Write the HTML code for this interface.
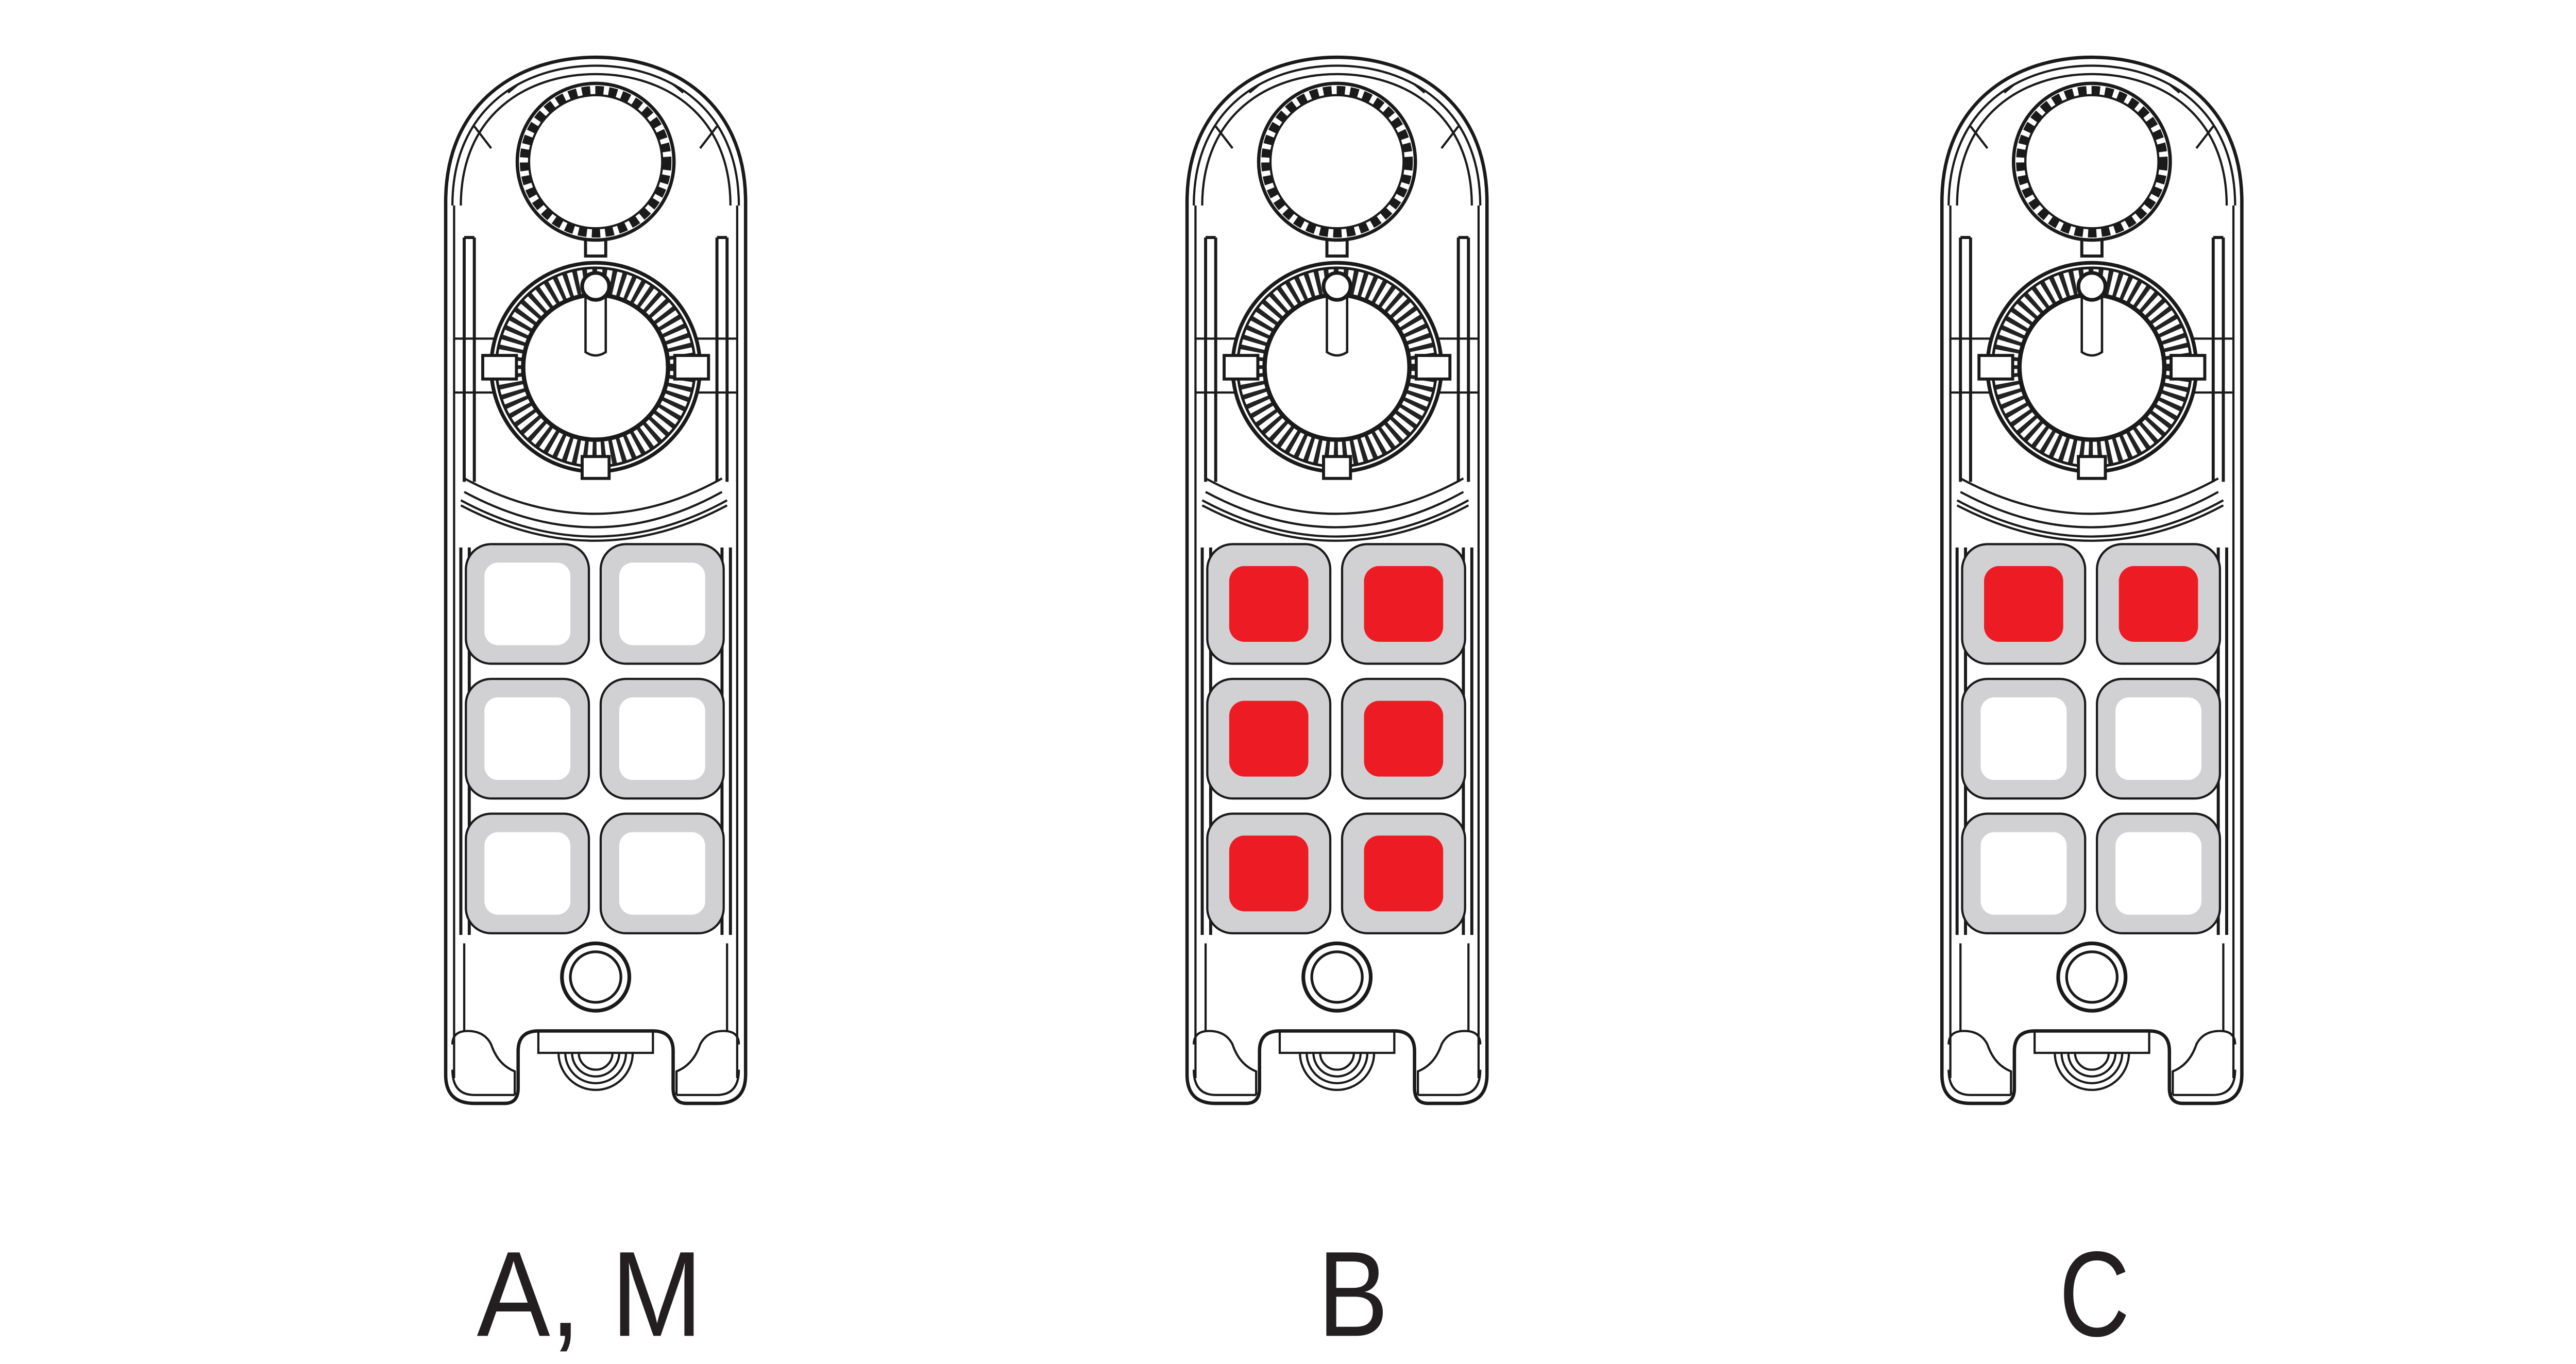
<!DOCTYPE html>
<html><head><meta charset="utf-8"><style>
html,body{margin:0;padding:0;background:#fff;width:5102px;height:2648px;overflow:hidden}
svg{display:block}
</style></head><body>
<svg width="5102" height="2648" viewBox="0 0 1560 809.7" preserveAspectRatio="none" xmlns="http://www.w3.org/2000/svg">
<defs>
<g id="dev" fill="none" stroke="#1a1a1a" stroke-width="1.3">
  <path d="M-89,120 C-89,60 -45,34 0,34 C45,34 89,60 89,120 L89,638 Q89,655 72,655 L54,655 Q46,655 46,646 L46,624 Q46,612 34,612 L-34,612 Q-46,612 -46,624 L-46,646 Q-46,655 -54,655 L-72,655 Q-89,655 -89,638 Z" stroke-width="2"/>
  <path d="M-85,122 C-85,64 -43,39 0,39 C43,39 85,64 85,122" />
  <path d="M-80,122 C-80,68 -41,44 0,44 C41,44 80,68 80,122" />
  <path d="M-72,75 L-62,88 M72,75 L62,88 M-52,55 L-46,50 M52,55 L46,50"/>
  <path d="M-84,122 L-84,640 M84,122 L84,640"/>
  <path d="M-78,141 L-78,286 M-72,141 L-72,286 M-78,141 L-72,141 M78,141 L78,286 M72,141 L72,286 M78,141 L72,141" stroke-width="1.8"/>
  <path d="M-80,325 L-80,555 M-75,325 L-75,555 M80,325 L80,555 M75,325 L75,555" stroke-width="1.8"/>
  <path d="M-78,560 L-78,612 M78,560 L78,612"/>
  <circle cx="0" cy="96" r="46.5" stroke-width="2"/>
  <circle cx="0" cy="96" r="42.5" stroke-width="5" stroke-dasharray="5 3"/>
  <circle cx="0" cy="96" r="39.5"/>
  <path d="M-6,142 L-6,152 L6,152 L6,142" stroke-width="1.8"/>
  <path d="M-84,201 L-60,201 M-84,233 L-60,233 M84,201 L60,201 M84,233 L60,233"/>
  <circle cx="0" cy="218" r="62" stroke-width="2.2"/>
  <circle cx="0" cy="218" r="51" stroke-width="15" stroke-dasharray="2.5 2.8" stroke="#222"/>
  <circle cx="0" cy="218" r="59" stroke-width="1.6"/>
  <circle cx="0" cy="218" r="43" stroke-width="2.6"/>
  <rect x="-67" y="211" width="20" height="14" fill="#fff" stroke-width="1.8"/>
  <rect x="47" y="211" width="20" height="14" fill="#fff" stroke-width="1.8"/>
  <rect x="-8" y="271" width="16" height="13" fill="#fff" stroke-width="1.8"/>
  <path d="M-6,176 L-6,209 Q0,213 6,209 L6,176" fill="#fff" stroke-width="1.4"/>
  <circle cx="0" cy="170" r="8" fill="#fff" stroke-width="2.2"/>
  <path d="M-78,284 Q0,326 75,284"/>
  <path d="M-78,292 Q0,334 75,292"/>
  <path d="M-80,297 Q0,340 78,297"/>
  <path d="M-80,300 Q0,342 78,300"/>
  <circle cx="0" cy="580" r="20" stroke-width="2.2"/>
  <circle cx="0" cy="580" r="15" stroke-width="1.6"/>
  <path d="M-22,625 A22,22 0 0 0 22,625"/>
  <path d="M-18,625 A18,18 0 0 0 18,625"/>
  <path d="M-14,625 A14,14 0 0 0 14,625"/>
  <path d="M-10,625 A10,10 0 0 0 10,625 Z"/>
  <path d="M-34,612 L-34,625 L34,625 L34,612"/>
  <path d="M-85,620 Q-85,612 -76,612 Q-66,612 -62,620 Q-58,632 -48,636 L-48,650 M-85,635 Q-85,650 -72,650 L-48,650"/>
  <path d="M85,620 Q85,612 76,612 Q66,612 62,620 Q58,632 48,636 L48,650 M85,635 Q85,650 72,650 L48,650"/>
</g>
</defs>

<g transform="translate(353.5,0)"><use href="#dev"/></g>
<g transform="translate(793.5,0)"><use href="#dev"/></g>
<g transform="translate(1241.5,0)"><use href="#dev"/></g>

<g stroke="#1a1a1a" stroke-width="1.3">
<g transform="translate(353.5,0)">
  <rect x="-77" y="323" width="73" height="71" rx="15" fill="#d1d1d3"/>
  <rect x="3" y="323" width="73" height="71" rx="15" fill="#d1d1d3"/>
  <rect x="-77" y="403" width="73" height="71" rx="15" fill="#d1d1d3"/>
  <rect x="3" y="403" width="73" height="71" rx="15" fill="#d1d1d3"/>
  <rect x="-77" y="483" width="73" height="71" rx="15" fill="#d1d1d3"/>
  <rect x="3" y="483" width="73" height="71" rx="15" fill="#d1d1d3"/>
  <g fill="#fff" stroke="none">
  <rect x="-66" y="334" width="51" height="49" rx="8"/><rect x="14" y="334" width="51" height="49" rx="8"/>
  <rect x="-66" y="414" width="51" height="49" rx="8"/><rect x="14" y="414" width="51" height="49" rx="8"/>
  <rect x="-66" y="494" width="51" height="49" rx="8"/><rect x="14" y="494" width="51" height="49" rx="8"/>
  </g>
</g>
<g transform="translate(793.5,0)">
  <rect x="-77" y="323" width="73" height="71" rx="15" fill="#d1d1d3"/>
  <rect x="3" y="323" width="73" height="71" rx="15" fill="#d1d1d3"/>
  <rect x="-77" y="403" width="73" height="71" rx="15" fill="#d1d1d3"/>
  <rect x="3" y="403" width="73" height="71" rx="15" fill="#d1d1d3"/>
  <rect x="-77" y="483" width="73" height="71" rx="15" fill="#d1d1d3"/>
  <rect x="3" y="483" width="73" height="71" rx="15" fill="#d1d1d3"/>
  <g fill="#ed1c24" stroke="none">
  <rect x="-64" y="336" width="47" height="45" rx="9"/><rect x="16" y="336" width="47" height="45" rx="9"/>
  <rect x="-64" y="416" width="47" height="45" rx="9"/><rect x="16" y="416" width="47" height="45" rx="9"/>
  <rect x="-64" y="496" width="47" height="45" rx="9"/><rect x="16" y="496" width="47" height="45" rx="9"/>
  </g>
</g>
<g transform="translate(1241.5,0)">
  <rect x="-77" y="323" width="73" height="71" rx="15" fill="#d1d1d3"/>
  <rect x="3" y="323" width="73" height="71" rx="15" fill="#d1d1d3"/>
  <rect x="-77" y="403" width="73" height="71" rx="15" fill="#d1d1d3"/>
  <rect x="3" y="403" width="73" height="71" rx="15" fill="#d1d1d3"/>
  <rect x="-77" y="483" width="73" height="71" rx="15" fill="#d1d1d3"/>
  <rect x="3" y="483" width="73" height="71" rx="15" fill="#d1d1d3"/>
  <g fill="#ed1c24" stroke="none">
  <rect x="-64" y="336" width="47" height="45" rx="9"/><rect x="16" y="336" width="47" height="45" rx="9"/>
  </g>
  <g fill="#fff" stroke="none">
  <rect x="-66" y="414" width="51" height="49" rx="8"/><rect x="14" y="414" width="51" height="49" rx="8"/>
  <rect x="-66" y="494" width="51" height="49" rx="8"/><rect x="14" y="494" width="51" height="49" rx="8"/>
  </g>
</g>
</g>

<g font-family="Liberation Sans, sans-serif" font-size="72" fill="#231f20" text-anchor="middle">
  <text x="350" y="793" textLength="134" lengthAdjust="spacingAndGlyphs">A, M</text>
  <text x="803" y="793" textLength="42" lengthAdjust="spacingAndGlyphs">B</text>
  <text x="1243" y="793" textLength="42" lengthAdjust="spacingAndGlyphs">C</text>
</g>
</svg>
</body></html>
